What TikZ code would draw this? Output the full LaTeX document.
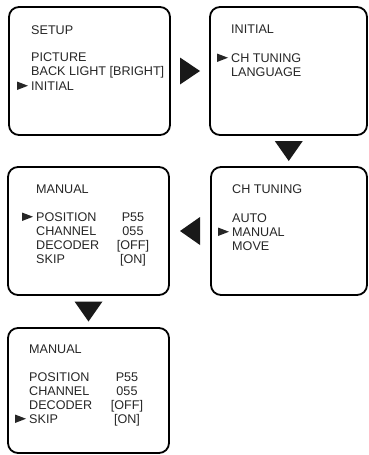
\documentclass[tikz,border=0pt]{standalone}
\usepackage{fontspec}
\setmainfont{Liberation Sans}
\usetikzlibrary{calc}

\begin{document}
\begin{tikzpicture}[
  x=1pt, y=-1pt,
  screen/.style={draw, line width=1.8pt, rounded corners=10pt, minimum width=161pt, minimum height=128pt},
  entry/.style={anchor=base west, inner sep=0pt, font=\fontsize{12.6}{14}\selectfont, text=black!85},
  value/.style={entry, anchor=base},
  pointer/.style={fill=black!90},
  cursor/.style={fill=black!85}
  ]
  \useasboundingbox (0,0) rectangle (369,455);

  \node[screen] (setup) at (89.5,71) {};
  \node[screen, minimum width=157pt] (initial) at (288.5,71) {};
  \node[screen, minimum width=156pt] (tuning) at (289,231) {};
  \node[screen] (manual) at (88.5,231) {};
  \node[screen, minimum height=125pt] (skip) at (88.5,390.5) {};

  \node[entry] (setuphead) at (31,34) {SETUP};
  \node[entry] (picture) at (31,61) {PICTURE};
  \node[entry] (backlight) at (31,75.5) {BACK LIGHT [BRIGHT]};
  \node[entry] (initialitem) at (31,90) {INITIAL};

  \node[entry] (initialhead) at (231,33.5) {INITIAL};
  \node[entry] (tuningitem) at (231,62) {CH TUNING};
  \node[entry] (language) at (231,76) {LANGUAGE};

  \node[entry] (tuninghead) at (232,193) {CH TUNING};
  \node[entry] (auto) at (232,222) {AUTO};
  \node[entry] (manualitem) at (232,236) {MANUAL};
  \node[entry] (move) at (232,250) {MOVE};

  \node[entry] (manualhead) at (36,193) {MANUAL};
  \node[entry] (position) at (36,221) {POSITION};
  \node[entry] (channel) at (36,235) {CHANNEL};
  \node[entry] (decoder) at (36,249) {DECODER};
  \node[entry] (skipitem) at (36,263) {SKIP};
  \node[value] (positionval) at (133,221) {P55};
  \node[value] (channelval) at (133,235) {055};
  \node[value] (decoderval) at (133,249) {[OFF]};
  \node[value] (skipval) at (133,263) {[ON]};

  \node[entry] (skiphead) at (29,353) {MANUAL};
  \node[entry] (position2) at (29,381) {POSITION};
  \node[entry] (channel2) at (29,395) {CHANNEL};
  \node[entry] (decoder2) at (29,409) {DECODER};
  \node[entry] (skipitem2) at (29,423) {SKIP};
  \node[value] (positionval2) at (127,381) {P55};
  \node[value] (channelval2) at (127,395) {055};
  \node[value] (decoderval2) at (127,409) {[OFF]};
  \node[value] (skipval2) at (127,423) {[ON]};

  \fill[cursor] (initialitem.base west) ++(-14,0) -- ++(0,-8.5) -- ++(11,4.25) -- cycle;
  \fill[cursor] (tuningitem.base west) ++(-14,0) -- ++(0,-8.5) -- ++(11,4.25) -- cycle;
  \fill[cursor] (manualitem.base west) ++(-14,0) -- ++(0,-8.5) -- ++(11,4.25) -- cycle;
  \fill[cursor] (position.base west) ++(-14,0) -- ++(0,-8.5) -- ++(11,4.25) -- cycle;
  \fill[cursor] (skipitem2.base west) ++(-14,0) -- ++(0,-8.5) -- ++(11,4.25) -- cycle;

  \coordinate (toinitial) at ($(setup.east)!.5!(initial.west)$);
  \coordinate (totuning) at ($(initial.south)!.5!(tuning.north)$);
  \coordinate (tomanual) at ($(tuning.west)!.5!(manual.east)$);
  \coordinate (toskip) at ($(manual.south)!.5!(skip.north)$);
  \fill[pointer] (toinitial) ++(-10,-13.5) -- ++(20,13.5) -- ++(-20,13.5) -- cycle;
  \fill[pointer] (totuning) ++(-14,-10) -- ++(28,0) -- ++(-14,20) -- cycle;
  \fill[pointer] (tomanual) ++(10,-14) -- ++(0,28) -- ++(-20,-14) -- cycle;
  \fill[pointer] (toskip) ++(-14,-10) -- ++(28,0) -- ++(-14,20) -- cycle;
\end{tikzpicture}
\end{document}
